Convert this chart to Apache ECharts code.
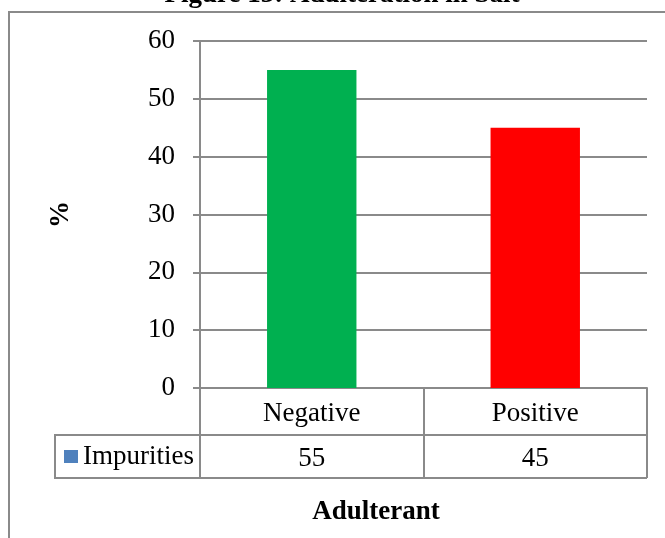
<!DOCTYPE html>
<html>
<head>
<meta charset="utf-8">
<script src="https://cdn.jsdelivr.net/npm/echarts@6/dist/echarts.min.js"></script>
<style>
  html, body { margin: 0; padding: 0; background: #ffffff; }
  #chart { width: 665px; height: 538px; }
</style>
</head>
<body>
<div id="chart"></div>
<script>
// Chart data
const categories = ['Negative', 'Positive'];
const impurities = [55, 45];
const barColors = ['#00B050', '#FF0000'];
const seriesName = 'Impurities';
const yMin = 0;
const yMax = 60;
const yStep = 10;

// Text
const chartTitle = 'Figure 13: Adulteration in Salt';
const xTitle = 'Adulterant';
const yTitle = '%';

// Layout and style
const W = 665, H = 538;
const plot = { left: 200, top: 41, right: 647, bottom: 388 };
const rowH1 = 47;            // category row of the data table
const rowH2 = 43;            // value row of the data table
const tableLeft = 55;        // left edge of the legend cell
const gray = '#8A8A8A';
const serif = 'Liberation Serif';
const textSize = 27;
const boldSize = 27;

const chart = echarts.init(document.getElementById('chart'), null, { renderer: 'canvas' });

const row2Top = plot.bottom + rowH1;
const row2Bottom = row2Top + rowH2;

chart.setOption({
  animation: false,
  backgroundColor: '#ffffff',
  title: [
    {
      text: chartTitle,
      left: 342,
      textAlign: 'center',
      top: -18,
      padding: 0,
      textStyle: { fontFamily: serif, fontWeight: 'bold', fontSize: boldSize, color: '#000' }
    },
    {
      text: xTitle,
      left: 376,
      textAlign: 'center',
      top: 499,
      padding: 0,
      textStyle: { fontFamily: serif, fontWeight: 'bold', fontSize: boldSize, color: '#000' }
    }
  ],
  legend: {
    data: [seriesName],
    left: 64,
    top: 443,
    padding: 0,
    selectedMode: false,
    icon: 'rect',
    itemWidth: 14,
    itemHeight: 13,
    textStyle: { fontFamily: serif, fontSize: textSize, color: '#000', padding: [4, 0, 0, 0] }
  },
  grid: {
    left: plot.left,
    top: plot.top,
    right: W - plot.right,
    bottom: H - plot.bottom,
    containLabel: false
  },
  xAxis: [
    {
      type: 'category',
      data: categories,
      position: 'bottom',
      axisLine: { show: true, lineStyle: { color: gray, width: 2 } },
      axisTick: { show: true, length: rowH1, lineStyle: { color: gray, width: 2 } },
      axisLabel: { margin: 12, fontFamily: serif, fontSize: textSize, color: '#000' }
    },
    {
      type: 'category',
      data: impurities.map(String),
      position: 'bottom',
      offset: rowH1,
      axisLine: { show: true, lineStyle: { color: gray, width: 2 } },
      axisTick: { show: true, length: rowH2, lineStyle: { color: gray, width: 2 } },
      axisLabel: { margin: 10, fontFamily: serif, fontSize: textSize, color: '#000' }
    }
  ],
  yAxis: {
    type: 'value',
    min: yMin,
    max: yMax,
    interval: yStep,
    name: yTitle,
    nameLocation: 'middle',
    nameRotate: 90,
    nameGap: 125,
    nameTextStyle: { fontFamily: serif, fontWeight: 'bold', fontSize: boldSize, color: '#000' },
    axisLine: { show: true, lineStyle: { color: gray, width: 2 } },
    axisTick: { show: true, inside: false, length: 7, lineStyle: { color: gray, width: 2 } },
    axisLabel: { margin: 25, fontFamily: serif, fontSize: textSize, color: '#000', padding: [4, 0, 0, 0] },
    splitLine: { show: true, lineStyle: { color: gray, width: 2 } }
  },
  series: [
    {
      name: seriesName,
      type: 'bar',
      xAxisIndex: 0,
      barWidth: '40%',
      itemStyle: { color: '#4F81BD' },
      data: impurities.map((v, i) => ({ value: v, itemStyle: { color: barColors[i] } }))
    }
  ],
  graphic: [
    // outer chart frame
    {
      type: 'rect',
      silent: true,
      z: -1,
      shape: { x: 9, y: 12, width: 700, height: 600 },
      style: { fill: 'none', stroke: gray, lineWidth: 2 }
    },
    // legend cell of the data table
    {
      type: 'polyline',
      silent: true,
      shape: { points: [[plot.left, row2Top], [tableLeft, row2Top], [tableLeft, row2Bottom], [plot.right, row2Bottom]] },
      style: { fill: 'none', stroke: gray, lineWidth: 2 }
    }
  ]
});
</script>
</body>
</html>
